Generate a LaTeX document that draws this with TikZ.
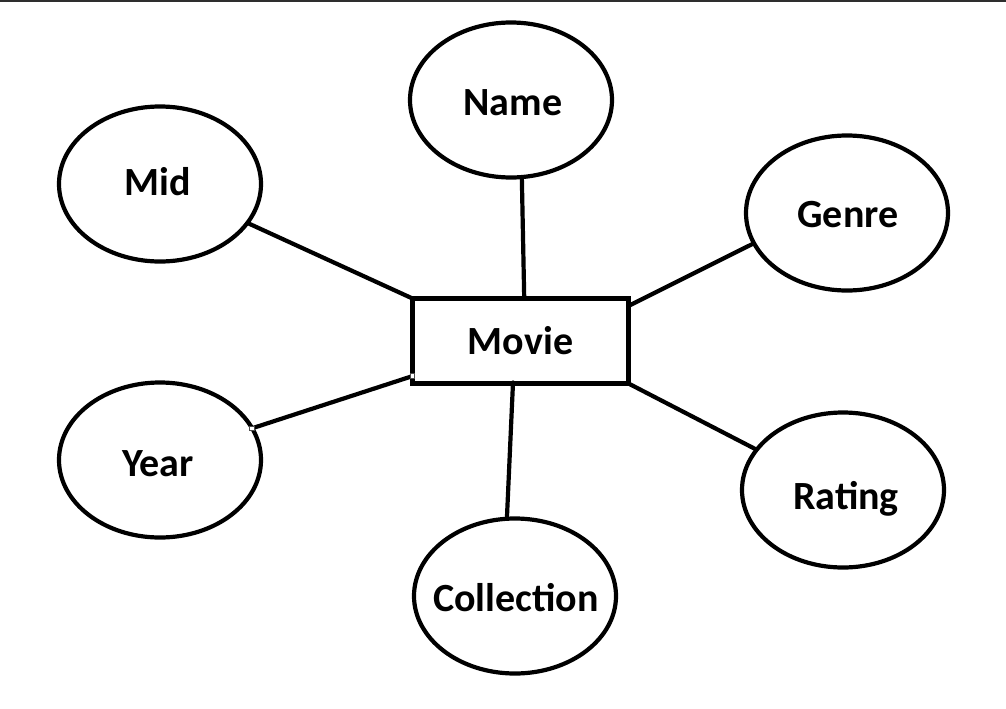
\documentclass[tikz,border=0pt]{standalone}
\usepackage{fontspec}
\setmainfont{Carlito}
\usetikzlibrary{shapes.geometric,calc}
\begin{document}
\begin{tikzpicture}[x=1pt,y=-1pt,
  attr/.style={draw=black,line width=4.2pt,ellipse,minimum width=202pt,minimum height=155pt,inner sep=0pt,outer sep=0pt},
  entity/.style={draw=black,line width=4.6pt,rectangle,minimum width=216pt,minimum height=85pt,inner sep=0pt,outer sep=0pt,
    font=\fontsize{40}{44}\selectfont\bfseries},
  lbl/.style={anchor=base,inner sep=0pt,font=\fontsize{40}{44}\selectfont\bfseries},
  conn/.style={draw=black,line width=4.2pt},
  handle/.style={draw=black!70,fill=white,line width=0.8pt,minimum size=4.5pt,inner sep=0pt,rectangle}]
\useasboundingbox (0,0) rectangle (1006,709);
\fill[black!82] (0,0) rectangle (1006,2.5);
% entity
\node[entity] (movie) at (520.5,341) {Movie};
% attributes
\node[attr] (name) at (511,100) {};
\node[attr] (mid) at (160,184) {};
\node[attr] (genre) at (847,213) {};
\node[attr] (year) at (160,460) {};
\node[attr] (rating) at (843,490) {};
\node[attr] (coll) at (515,596) {};
% labels
\node[lbl] (nameT) at (513,115) {Name};
\node[lbl] (midT) at (158,195) {Mid};
\node[lbl] (genreT) at (848,227) {Genre};
\node[lbl] (yearT) at (158,476) {Year};
\node[lbl] (ratingT) at (846,509) {Rating};
\node[lbl] (collT) at (516,611) {Collection};
% connectors
\draw[conn] (name.-82) -- (movie.85);
\draw[conn] (mid.-24) -- (movie.north west);
\draw[conn] (genre.-162.6) -- (movie.18);
\draw[conn] (rating.155) -- (movie.south east);
\draw[conn,line cap=round] ($(movie.south)+(-7.5,-1)$) -- (coll.96);
\draw[conn] (year.19.7) -- (movie.198.4);
\node[handle] (h1) at (year.19.7) {};
\node[handle] (h2) at (movie.198.4) {};
\end{tikzpicture}
\end{document}
